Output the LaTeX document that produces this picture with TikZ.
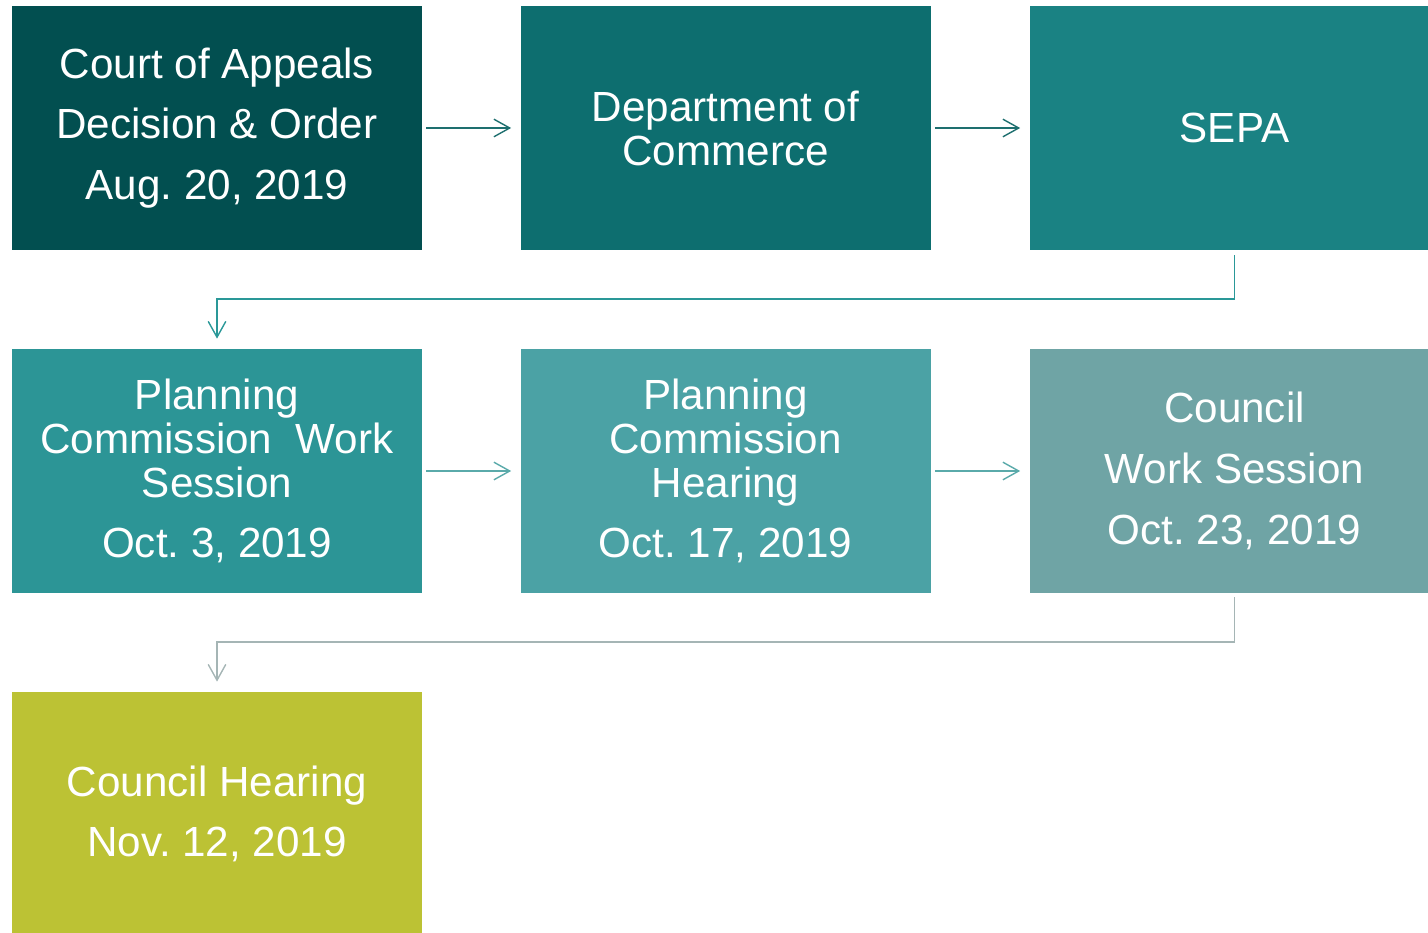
\documentclass[tikz,border=0pt]{standalone}
\usepackage{fontspec}
\setmainfont{Liberation Sans}
\usetikzlibrary{arrows.meta}
\definecolor{tealA}{HTML}{024F50}
\definecolor{tealB}{HTML}{0D6E6F}
\definecolor{tealC}{HTML}{1A8283}
\definecolor{tealD}{HTML}{2C9596}
\definecolor{tealE}{HTML}{4BA2A5}
\definecolor{tealF}{HTML}{6FA4A5}
\definecolor{olive}{HTML}{BCC234}
\definecolor{lineA}{HTML}{1E6F6F}
\definecolor{lineB}{HTML}{2A9898}
\definecolor{lineC}{HTML}{5AAAAA}
\definecolor{lineD}{HTML}{A5B5B5}
\tikzset{stage/.style={minimum width=8.2cm,minimum height=4.88cm,inner sep=0pt,
    text=white,align=center,font=\fontsize{24}{25}\selectfont\frenchspacing},
  link/.style={->,line width=0.8pt,shorten <=0.08cm,shorten >=0.18cm}}

\begin{document}
\begin{tikzpicture}[>={Straight Barb[length=9pt,width=10pt]}]
  \useasboundingbox (0,0) rectangle (28.56,18.64);
  \node[stage,fill=tealA] (CA) at (4.34,16.08) {Court of Appeals\\[9.6pt]Decision \& Order\\[9.6pt]Aug. 20, 2019};
  \node[stage,fill=tealB] (DC) at (14.51,16.08) {Department of\\Commerce};
  \node[stage,fill=tealC] (SEPA) at (24.69,16.08) {SEPA};
  \node[stage,fill=tealD] (PCW) at (4.34,9.22) {Planning\\Commission\ \ Work\\Session\\[9.6pt]Oct. 3, 2019};
  \node[stage,fill=tealE] (PCH) at (14.51,9.22) {Planning\\Commission\\Hearing\\[9.6pt]Oct. 17, 2019};
  \node[stage,fill=tealF] (CW) at (24.69,9.22) {Council\\[9.6pt]Work Session\\[9.6pt]Oct. 23, 2019};
  \node[stage,fill=olive] (CH) at (4.34,2.36) {Council Hearing\\[9.6pt]Nov. 12, 2019};

  \draw[link,lineA] (CA) -- (DC);
  \draw[link,lineA] (DC) -- (SEPA);
  \draw[link,lineB,shorten <=0.1cm,shorten >=0.2cm] (SEPA.south) -- (SEPA.south |- 0,12.66) -| (PCW.north);
  \draw[link,lineC] (PCW) -- (PCH);
  \draw[link,lineC] (PCH) -- (CW);
  \draw[link,lineD,shorten <=0.08cm,shorten >=0.2cm] (CW.south) -- (CW.south |- 0,5.8) -| (CH.north);
\end{tikzpicture}
\end{document}
